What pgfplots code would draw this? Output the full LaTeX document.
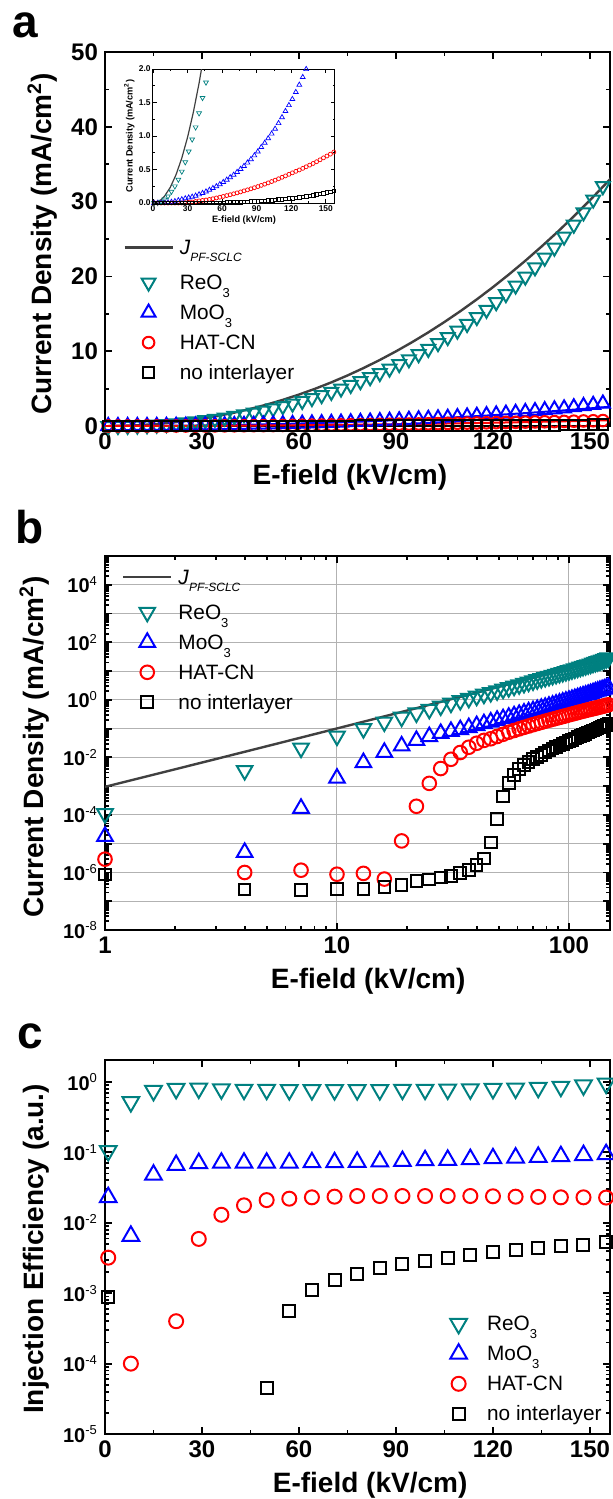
\documentclass[border=0pt]{standalone}
\usepackage{fontspec}
\setmainfont{Liberation Sans}
\usepackage{pgfplots}
\usepackage{pgfplotstable}
\pgfplotsset{compat=1.18}

\definecolor{reo}{RGB}{0,128,128}
\definecolor{jline}{RGB}{64,64,64}
\definecolor{gridgray}{RGB}{178,178,178}

% log tick label, lowered subscript, J legend text
\newcommand{\tp}[1]{10\textsuperscript{\mdseries\fontsize{6.5}{7}\selectfont #1}}
\newcommand{\sub}[1]{\raisebox{-3.8pt}{\fontsize{6.5}{7}\selectfont #1}}
\newcommand{\jpfleg}{\raisebox{2.5pt}{\textit{J}\raisebox{-3.5pt}{\fontsize{6}{7}\selectfont\itshape PF-SCLC}}}

% J-E data, E = 1, 4, 7, ... kV/cm
\pgfplotstableread{
E J
1 9.49e-4
2 3.84e-3
3 8.73e-3
5 0.02464
7 0.04891
10 0.1014
15 0.2332
20 0.4224
25 0.6707
30 0.9801
35 1.3523
40 1.7886
45 2.2905
50 2.8596
55 3.4972
60 4.2046
65 4.9825
70 5.8333
75 6.7568
80 7.7555
85 8.8297
90 9.981
95 11.210
100 12.518
105 13.907
110 15.377
115 16.929
120 18.565
125 20.285
130 22.090
135 23.983
140 25.960
145 28.028
150 30.184
155 32.434
160 34.772
}\tabJ

\pgfplotstableread{
E J
1 1.1e-4
4 3.5e-3
7 0.021
10 0.055
13 0.10
16 0.17
19 0.25
22 0.35
25 0.47
28 0.61
31 0.77
34 0.95
37 1.13
40 1.34
43 1.57
46 1.80
49 2.06
52 2.35
55 2.66
58 2.99
61 3.35
64 3.73
67 4.13
70 4.56
73 5.01
76 5.49
79 5.99
82 6.52
85 7.08
88 7.67
91 8.28
94 8.92
97 9.60
100 10.30
103 11.08
106 11.89
109 12.75
112 13.64
115 14.57
118 15.54
121 16.55
124 17.63
127 18.78
130 19.97
133 21.21
136 22.50
139 23.84
142 25.33
145 26.91
148 28.56
151 30.28
154 32.06
157 33.92
160 35.84
}\tabR

\pgfplotstableread{
E J
1 1.8e-5
4 5.0e-6
7 1.7e-4
10 1.9e-3
13 6.6e-3
16 0.015
19 0.025
22 0.039
25 0.053
28 0.068
31 0.080
34 0.092
37 0.108
40 0.127
43 0.148
46 0.170
49 0.195
52 0.221
55 0.248
58 0.279
61 0.311
64 0.347
67 0.383
70 0.420
73 0.462
76 0.507
79 0.551
82 0.601
85 0.653
88 0.709
91 0.767
94 0.833
97 0.897
100 0.964
103 1.034
106 1.107
109 1.191
112 1.279
115 1.371
118 1.459
121 1.550
124 1.655
127 1.764
130 1.878
133 1.997
136 2.120
139 2.236
142 2.356
145 2.509
148 2.667
151 2.833
154 3.006
157 3.186
160 3.373
}\tabM

\pgfplotstableread{
E J
1 2.9e-6
4 1.0e-6
7 1.2e-6
10 8.7e-7
13 9.3e-7
16 5.9e-7
19 1.25e-5
22 2.0e-4
25 1.25e-3
28 4.1e-3
31 8.6e-3
34 0.0148
37 0.0225
40 0.031
43 0.039
46 0.0444
49 0.0534
52 0.0637
55 0.0752
58 0.0861
61 0.0980
64 0.1109
67 0.1233
70 0.1371
73 0.1512
76 0.1654
79 0.1812
82 0.1962
85 0.2119
88 0.2283
91 0.2453
94 0.2630
97 0.2813
100 0.3004
103 0.3202
106 0.3407
109 0.3618
112 0.3837
115 0.4046
118 0.4278
121 0.4499
124 0.4724
127 0.4934
130 0.5169
133 0.5409
136 0.5654
139 0.5903
142 0.6159
145 0.6446
148 0.6741
151 0.7014
154 0.7291
157 0.7605
160 0.7893
}\tabH

\pgfplotstableread{
E J
1 8.5e-7
4 2.6e-7
7 2.45e-7
10 2.7e-7
13 2.7e-7
16 3.2e-7
19 3.7e-7
22 5.0e-7
25 5.7e-7
28 6.6e-7
31 7.6e-7
34 9.8e-7
37 1.2e-6
40 1.8e-6
43 3.1e-6
46 1.1e-5
49 7.1e-5
52 4.4e-4
55 1.26e-3
58 2.5e-3
61 3.9e-3
64 5.5e-3
67 6.9e-3
70 8.75e-3
73 0.0102
76 0.0122
79 0.0147
82 0.0172
85 0.0203
88 0.0231
91 0.0262
94 0.0296
97 0.0331
100 0.0368
103 0.0410
106 0.0454
109 0.0502
112 0.0553
115 0.0608
118 0.0664
121 0.0726
124 0.0792
127 0.0861
130 0.0934
133 0.1012
136 0.1094
139 0.1178
142 0.1267
145 0.1348
148 0.1436
151 0.1553
154 0.1676
157 0.1801
160 0.1930
}\tabN

% injection efficiency, E = 1, 8, 15, ... kV/cm
\pgfplotstableread{
E eta
1 0.105
8 0.52
15 0.75
22 0.80
29 0.81
36 0.79
43 0.78
50 0.78
57 0.77
64 0.77
71 0.77
78 0.77
85 0.77
92 0.78
99 0.78
106 0.785
113 0.79
120 0.80
127 0.81
134 0.83
141 0.86
148 0.90
155 0.95
}\effR

\pgfplotstableread{
E eta
1 0.023
8 0.0065
15 0.048
22 0.066
29 0.070
36 0.071
43 0.071
50 0.071
57 0.071
64 0.072
71 0.072
78 0.073
85 0.074
92 0.075
99 0.077
106 0.078
113 0.080
120 0.082
127 0.084
134 0.086
141 0.088
148 0.091
155 0.094
}\effM

\pgfplotstableread{
E eta
1 3.2e-3
8 1.0e-4
22 4.0e-4
29 5.9e-3
36 0.013
43 0.0177
50 0.021
57 0.022
64 0.023
71 0.0235
78 0.024
85 0.024
92 0.024
99 0.024
106 0.024
113 0.024
120 0.0238
127 0.0235
134 0.0233
141 0.023
148 0.023
155 0.0228
}\effH

\pgfplotstableread{
E eta
1 8.9e-4
50 4.5e-5
57 5.5e-4
64 1.1e-3
71 1.55e-3
78 1.9e-3
85 2.3e-3
92 2.6e-3
99 2.9e-3
106 3.2e-3
113 3.5e-3
120 3.8e-3
127 4.1e-3
134 4.4e-3
141 4.7e-3
148 4.9e-3
155 5.3e-3
}\effN

\pgfplotsset{
  /pgf/number format/assume math mode=true,
  panel/.style={
    scale only axis, width=252.5pt, height=187pt,
    axis line style={line width=1pt},
    every tick/.style={line width=0.9pt, black},
    major tick length=3.4pt, minor tick length=2pt,
    ticklabel style={font=\fontsize{12}{13}\selectfont\bfseries},
    label style={font=\fontsize{14}{15}\selectfont\bfseries},
    legend style={draw=none, fill=none, inner sep=0pt, row sep=2.5pt,
      column sep=2.5pt, font=\fontsize{10.4}{12}\selectfont,
      nodes={anchor=base west, inner sep=0.5pt, text height=8pt, text depth=3.5pt}},
  },
  jl/.style={color=jline, line width=#1,
    legend image code/.code={\draw[##1] (-12pt,6.1pt) -- (12pt,6.1pt);}},
  mk/.style={only marks,
    legend image code/.code={\draw[##1] plot coordinates {(0pt,3.6pt)};}},
  mreo/.style={mk, color=reo, mark=triangle, mark size=#1,
    mark options={line width=1pt, rotate=180}},
  mmoo/.style={mk, color=blue, mark=triangle, mark size=#1,
    mark options={line width=1pt}},
  mhat/.style={mk, color=red, mark=o, mark size=#1,
    mark options={line width=1pt}},
  mno/.style={mk, color=black, mark=square, mark size=#1,
    mark options={line width=1pt}},
}

\begin{document}
\begin{tikzpicture}
\useasboundingbox (0pt,0pt) rectangle (306pt,-749.5pt);

\node[anchor=base west, inner sep=0pt] at (6pt,-19pt) {\fontsize{23}{23}\selectfont\bfseries a};
\node[anchor=base west, inner sep=0pt] at (7.5pt,-271.5pt) {\fontsize{23}{23}\selectfont\bfseries b};
\node[anchor=base west, inner sep=0pt] at (8.5pt,-524pt) {\fontsize{23}{23}\selectfont\bfseries c};

% panel a
\begin{axis}[panel, at={(52.5pt,-213pt)}, anchor=south west,
  xmin=0, xmax=156.2, ymin=0, ymax=50,
  xtick={0,30,...,150}, ytick={0,10,...,50},
  minor x tick num=1, minor y tick num=1,
  xlabel={E-field (kV/cm)}, ylabel={Current Density (mA/cm\textsuperscript{2})},
  xlabel style={at={(ticklabel cs:0.485)}},
  ylabel style={at={(ticklabel cs:0.487)}},
  legend style={at={(0.0356,0.491)}, anchor=north west}]
\addplot[jl=1.2pt] table {\tabJ};
\addlegendentry{\jpfleg}
\addplot[mreo=4pt] table {\tabR};
\addlegendentry{ReO\sub{3}}
\addplot[mmoo=4pt] table {\tabM};
\addlegendentry{MoO\sub{3}}
\addplot[mhat=2.9pt] table {\tabH};
\addlegendentry{HAT-CN}
\addplot[mno=2.7pt] table {\tabN};
\addlegendentry{no interlayer}
\addplot[blue, line width=1pt, forget plot] coordinates {
  (0,0) (10,0.0079) (20,0.033) (30,0.076) (40,0.14) (50,0.223) (60,0.328)
  (70,0.455) (80,0.605) (90,0.779) (100,0.976) (110,1.199) (120,1.448)
  (130,1.723) (140,2.025) (150,2.354) (160,2.712)};
\addplot[red, line width=1pt, forget plot] coordinates {
  (0,0) (20,0.0099) (40,0.042) (60,0.099) (80,0.182) (100,0.294)
  (120,0.436) (140,0.610) (160,0.817)};
\end{axis}

% inset of panel a
\begin{axis}[scale only axis, width=91pt, height=67pt,
  at={(76.5pt,-101.5pt)}, anchor=south west,
  axis background/.style={fill=white},
  xmin=0, xmax=158, ymin=0, ymax=2,
  xtick={0,30,...,150}, ytick={0,0.5,...,2},
  minor x tick num=1, minor y tick num=1,
  yticklabel style={/pgf/number format/.cd, fixed, fixed zerofill, precision=1},
  axis line style={line width=0.5pt},
  every tick/.style={line width=0.4pt, black},
  major tick length=1.8pt, minor tick length=1pt,
  ticklabel style={font=\fontsize{4.2}{5}\selectfont\bfseries, inner sep=1pt},
  label style={font=\fontsize{4.6}{5}\selectfont\bfseries, inner sep=1pt},
  xlabel={E-field (kV/cm)}, ylabel={Current Density (mA/cm\textsuperscript{2})}]
\addplot[color=jline, line width=0.6pt] table {\tabJ};
\addplot[only marks, color=reo, mark=triangle, mark size=1.4pt, mark options={line width=0.35pt, rotate=180}] table {\tabR};
\addplot[only marks, color=blue, mark=triangle, mark size=1.4pt, mark options={line width=0.35pt}] table {\tabM};
\addplot[only marks, color=red, mark=o, mark size=1pt, mark options={line width=0.35pt}] table {\tabH};
\addplot[only marks, color=black, mark=square, mark size=0.9pt, mark options={line width=0.35pt}] table {\tabN};
\end{axis}

% panel b
\begin{axis}[panel, at={(52.5pt,-465pt)}, anchor=south west,
  xmode=log, ymode=log, xmin=1, xmax=150.3, ymin=1e-8, ymax=1e5,
  xtick={1,10,100}, xticklabels={1,10,100},
  ytick={1e-8,1e-7,1e-6,1e-5,1e-4,1e-3,1e-2,1e-1,1,1e1,1e2,1e3,1e4,1e5},
  yticklabels={\tp{-8},,\tp{-6},,\tp{-4},,\tp{-2},,\tp{0},,\tp{2},,\tp{4},},
  yticklabel style={font=\fontsize{10}{11}\selectfont\bfseries},
  grid=major, major grid style={gridgray, line width=0.5pt},
  xlabel={E-field (kV/cm)}, ylabel={Current Density (mA/cm\textsuperscript{2})},
  xlabel style={at={(ticklabel cs:0.521)}},
  ylabel style={at={(ticklabel cs:0.489)}},
  legend style={at={(0.033,0.957)}, anchor=north west}]
\addplot[jl=1.2pt] table {\tabJ};
\addlegendentry{\jpfleg}
\addplot[mreo=4.5pt] table {\tabR};
\addlegendentry{ReO\sub{3}}
\addplot[mmoo=4.5pt] table {\tabM};
\addlegendentry{MoO\sub{3}}
\addplot[mhat=3.4pt] table {\tabH};
\addlegendentry{HAT-CN}
\addplot[mno=2.9pt] table {\tabN};
\addlegendentry{no interlayer}
\end{axis}

% panel c
\begin{axis}[panel, at={(52.5pt,-717pt)}, anchor=south west,
  ymode=log, xmin=0, xmax=156.2, ymin=1e-5, ymax=2.05,
  xtick={0,30,...,150}, minor x tick num=1,
  ytick={1e-5,1e-4,1e-3,1e-2,1e-1,1},
  yticklabels={\tp{-5},\tp{-4},\tp{-3},\tp{-2},\tp{-1},\tp{0}},
  yticklabel style={font=\fontsize{10}{11}\selectfont\bfseries},
  xlabel={E-field (kV/cm)}, ylabel={Injection Efficiency (a.u.)},
  xlabel style={at={(ticklabel cs:0.525)}},
  ylabel style={at={(ticklabel cs:0.495)}},
  legend style={at={(0.683,0.322)}, anchor=north west, column sep=9.6pt}]
\addplot[mreo=4.8pt] table {\effR};
\addlegendentry{ReO\sub{3}}
\addplot[mmoo=4.8pt] table {\effM};
\addlegendentry{MoO\sub{3}}
\addplot[mhat=3.5pt] table {\effH};
\addlegendentry{HAT-CN}
\addplot[mno=3pt] table {\effN};
\addlegendentry{no interlayer}
\end{axis}
\end{tikzpicture}
\end{document}
